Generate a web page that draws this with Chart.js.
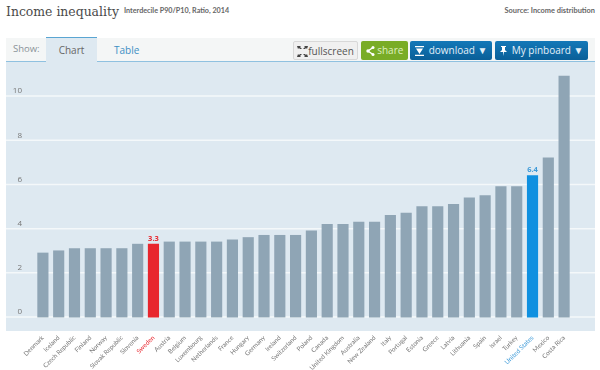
<!DOCTYPE html>
<html><head><meta charset="utf-8">
<script src="https://cdn.jsdelivr.net/npm/chart.js@4/dist/chart.umd.min.js"></script>
<style>
html,body{margin:0;padding:0;background:#fff;width:600px;height:370px;overflow:hidden}
body{font-family:"Open Sans",sans-serif;position:relative}
.a{position:absolute;white-space:nowrap}
#title{left:6px;top:0;font:13.8px/23px "DejaVu Serif Condensed","DejaVu Serif",serif;color:#4a4a4a}
#sub{left:124px;top:5px;font:bold 7.2px/12px Lato,sans-serif;color:#666}
#src{right:5px;top:5px;font:bold 7.4px/12px Lato,sans-serif;color:#666}
#bar{left:6px;top:38px;width:589px;height:23px;background:#f4f6f6}
#line{left:6px;top:61px;width:589px;height:1px;background:#8fc1e0}
#plot{left:6px;top:62px;width:589px;height:269px;background:#deE9f1}
#show{left:13px;top:42px;font:9.5px/14px "Open Sans",sans-serif;color:#8a9298}
#tab{left:46px;top:37px;width:51px;height:25px;background:#deE9f1;border-top:1px solid #5aa5d2;box-sizing:border-box;text-align:center;font:10px/25px "Open Sans",sans-serif;color:#666}
#tab2{left:114px;top:43px;font:10px/14px "Open Sans",sans-serif;color:#3d8fc4}
.btn{top:41px;height:19px;box-sizing:border-box;border-radius:2px;font:10px/18px "Open Sans",sans-serif;text-align:center}
#fs{left:293px;width:65px;background:#f0f0f0;border:1px solid #d8d8d8;color:#555}
#sh{left:361px;width:47px;background:#79ac26;color:#dff0c0}
#dl{left:410px;width:82px;background:linear-gradient(#1378b8,#0a5f98);color:#e4f0f8}
#pin{left:495px;width:93px;background:linear-gradient(#1378b8,#0a5f98);color:#e4f0f8}
svg{vertical-align:-2px}
canvas{position:absolute;left:0;top:0}
</style></head><body>
<div class="a" id="title">Income inequality</div>
<div class="a" id="sub">Interdecile P90/P10, Ratio, 2014</div>
<div class="a" id="src">Source: Income distribution</div>
<div class="a" id="bar"></div><div class="a" id="plot"></div><div class="a" id="line"></div>
<div class="a" id="show">Show:</div>
<div class="a" id="tab">Chart</div>
<div class="a" id="tab2">Table</div>
<div class="a btn" id="fs"><svg width="11" height="11" viewBox="0 0 11 11"><path d="M0 0h4L3 1l2 2-2 0-1-1-1 1zM11 0H7l1 1-2 2 2 0 1-1 1 1zM0 11h4L3 10l2-2-2 0-1 1-1-1zM11 11H7l1-1-2-2 2 0 1 1 1-1z" fill="#444"/></svg>fullscreen</div>
<div class="a btn" id="sh"><svg width="9" height="10" viewBox="0 0 9 10"><path d="M7 1.5L2 5l5 3.5" stroke="#fff" stroke-width="1.4" fill="none"/><circle cx="7" cy="1.5" r="1.5" fill="#fff"/><circle cx="2" cy="5" r="1.7" fill="#fff"/><circle cx="7" cy="8.5" r="1.5" fill="#fff"/></svg> share</div>
<div class="a btn" id="dl"><svg width="9" height="10" viewBox="0 0 9 10"><path d="M0 0h9v1.3H0zM0 8.7h9V10H0zM4.5 8L1 2.5h7z" fill="#fff"/></svg>&nbsp; download &#9660;</div>
<div class="a btn" id="pin"><svg width="7" height="10" viewBox="0 0 7 10"><path d="M1 0h5v1H5v3l2 2H4L3.500 10 3 6H0l2-2V1H1z" fill="#fff"/></svg>&nbsp; My pinboard &#9660;</div>
<canvas id="c" width="600" height="370"></canvas>
<script>
const categories=["Denmark","Iceland","Czech Republic","Finland","Norway","Slovak Republic","Slovenia","Sweden","Austria","Belgium","Luxembourg","Netherlands","France","Hungary","Germany","Ireland","Switzerland","Poland","Canada","United Kingdom","Australia","New Zealand","Italy","Portugal","Estonia","Greece","Latvia","Lithuania","Spain","Israel","Turkey","United States","Mexico","Costa Rica"];
const values=[2.9,3.0,3.1,3.1,3.1,3.1,3.3,3.3,3.4,3.4,3.4,3.4,3.5,3.6,3.7,3.7,3.7,3.9,4.2,4.2,4.3,4.3,4.6,4.7,5.0,5.0,5.1,5.4,5.5,5.9,5.9,6.4,7.2,10.9];
const yTicks=[0,2,4,6,8,10];
const highlights={"Sweden":"#e8262e","United States":"#0f90e0"};
const labelHighlights={"Sweden":"#e8262e","United States":"#3d9ad8"};
const barColor="#8fa5b5", labelColor="#777";

const fullGrid={id:"fullGrid",beforeDatasetsDraw(ch){
  const y=ch.scales.y,c=ch.ctx;
  c.save();c.strokeStyle="#f4f8fa";c.lineWidth=1.5;
  yTicks.forEach(v=>{const p=y.getPixelForValue(v);c.beginPath();c.moveTo(6,p);c.lineTo(595,p);c.stroke();});
  c.restore();
}};
const valueLabels={id:"valueLabels",afterDatasetsDraw(ch){
  const m=ch.getDatasetMeta(0),c=ch.ctx;
  c.save();c.font='bold 7.5px "Open Sans",sans-serif';c.textAlign="center";c.textBaseline="bottom";
  categories.forEach((n,i)=>{ if(labelHighlights[n]){c.fillStyle=labelHighlights[n];c.fillText(values[i].toFixed(1),m.data[i].x,m.data[i].y-2);} });
  c.restore();
}};
new Chart(document.getElementById("c"),{
  type:"bar",
  data:{labels:categories,datasets:[{data:values,
    backgroundColor:categories.map(n=>highlights[n]||barColor),
    barThickness:10.5,borderWidth:0}]},
  plugins:[fullGrid,valueLabels],
  options:{
    responsive:false,animation:false,devicePixelRatio:1,
    layout:{padding:{top:62,right:28,left:0,bottom:0}},
    plugins:{legend:{display:false},tooltip:{enabled:false},title:{display:false}},
    scales:{
      x:{grid:{display:false,tickLength:0},border:{display:false},
        afterFit(s){s.height=39;},
        ticks:{autoSkip:false,minRotation:45,maxRotation:45,padding:3,
          font:{family:'Lato,sans-serif',size:6.4},
          color:ctx=>labelHighlights[categories[ctx.index]]||labelColor}},
      y:{min:-0.63,max:11.54,grid:{display:false,tickLength:0},border:{display:false},
        afterFit(s){s.width=35;},
        afterBuildTicks(s){s.ticks=yTicks.map(v=>({value:v}));},
        ticks:{padding:13,callback:v=>[String(v),""],
          font:{family:'"Open Sans",sans-serif',size:8,lineHeight:1.25},color:"#777"}}
    }
  }
});
</script>
</body></html>
